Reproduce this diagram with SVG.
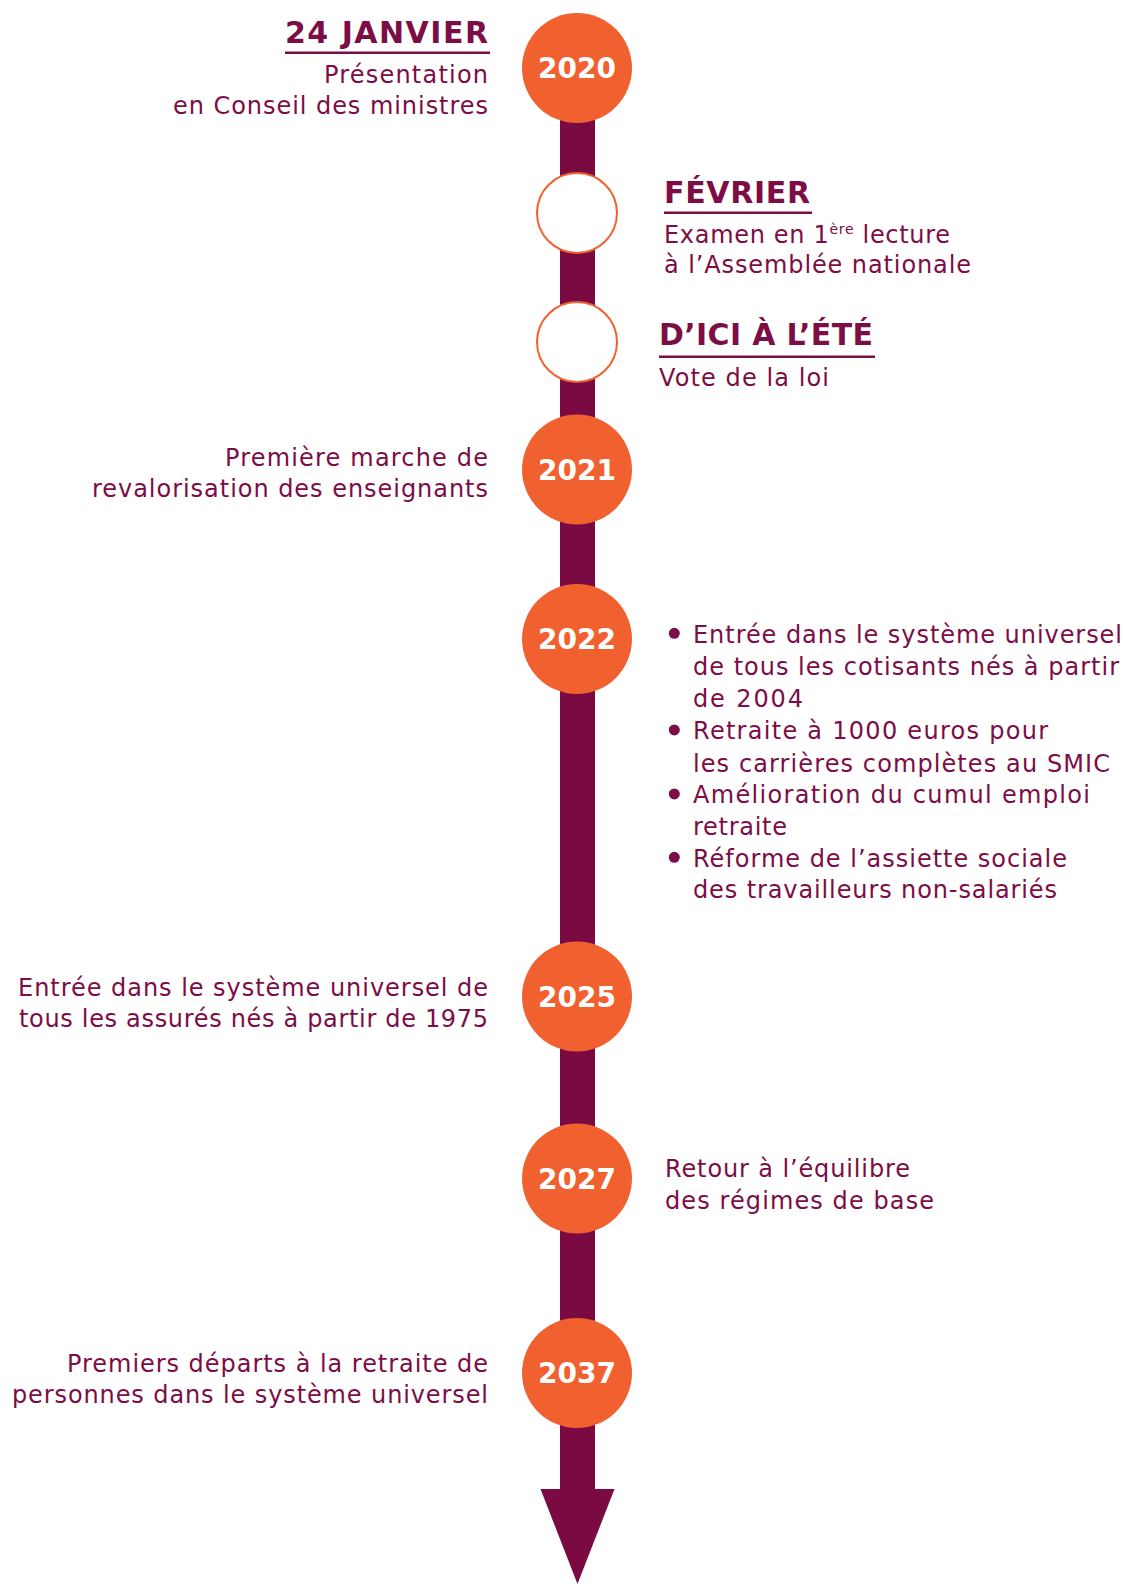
<svg xmlns="http://www.w3.org/2000/svg" width="1126" height="1584" viewBox="0 0 1126 1584">
  <style>
    .txt { font-family: "DejaVu Sans", "Liberation Sans", sans-serif; font-size: 24px; fill: #7c0d45; }
    .head { font-family: "DejaVu Sans", "Liberation Sans", sans-serif; font-weight: bold; font-size: 30px; fill: #7c0d45; }
    .year { font-family: "DejaVu Sans", "Liberation Sans", sans-serif; font-weight: bold; font-size: 28px; fill: #ffffff; text-anchor: middle; }
    .dot { fill: #f0612f; }
    .ring { fill: #ffffff; stroke: #f0612f; stroke-width: 2; }
    .rule { stroke: #7c0d45; stroke-width: 2.5; }
    .bullet { fill: #7c0d45; }
    .end { text-anchor: end; }
  </style>

  <!-- timeline spine with arrow head -->
  <g id="connectors">
    <rect x="560" y="68" width="35" height="1424" fill="#7c0a42"/>
    <polygon points="540.5,1489 614.5,1489 577.5,1584" fill="#7c0a42"/>
  </g>

  <!-- 2020 -->
  <g id="node-2020">
    <circle class="dot" cx="577" cy="68" r="55"/>
    <text class="year" x="577" y="78">2020</text>
    <text class="head end" x="488" y="42.7" font-size="32" textLength="203" lengthAdjust="spacing">24 JANVIER</text>
    <line class="rule" x1="285" y1="52.7" x2="490" y2="52.7"/>
    <text class="txt end" x="488" y="83" textLength="164" lengthAdjust="spacing">Présentation</text>
    <text class="txt end" x="488" y="113.5" textLength="315" lengthAdjust="spacing">en Conseil des ministres</text>
  </g>

  <!-- Février -->
  <g id="node-fevrier">
    <circle class="ring" cx="577" cy="213" r="40"/>
    <text class="head" x="664" y="203.3" textLength="146" lengthAdjust="spacing">FÉVRIER</text>
    <line class="rule" x1="664" y1="212.7" x2="812" y2="212.7"/>
    <text class="txt" x="664" y="242.7" textLength="286" lengthAdjust="spacing">Examen en 1<tspan font-size="14" dy="-9">ère</tspan><tspan dy="9"> lecture</tspan></text>
    <text class="txt" x="664" y="273.3" textLength="307" lengthAdjust="spacing">à l’Assemblée nationale</text>
  </g>

  <!-- D'ici à l'été -->
  <g id="node-ete">
    <circle class="ring" cx="577" cy="342" r="40"/>
    <text class="head" x="659" y="345" textLength="214" lengthAdjust="spacing">D’ICI À L’ÉTÉ</text>
    <line class="rule" x1="659" y1="356.7" x2="875" y2="356.7"/>
    <text class="txt" x="659" y="385.7" textLength="170" lengthAdjust="spacing">Vote de la loi</text>
  </g>

  <!-- 2021 -->
  <g id="node-2021">
    <circle class="dot" cx="577" cy="469.5" r="55"/>
    <text class="year" x="577" y="479.5">2021</text>
    <text class="txt end" x="488" y="466" textLength="263" lengthAdjust="spacing">Première marche de</text>
    <text class="txt end" x="488" y="497" textLength="396" lengthAdjust="spacing">revalorisation des enseignants</text>
  </g>

  <!-- 2022 -->
  <g id="node-2022">
    <circle class="dot" cx="577" cy="639" r="55"/>
    <text class="year" x="577" y="649">2022</text>
    <circle class="bullet" cx="674.3" cy="633.3" r="5.5"/>
    <text class="txt" x="693" y="642.7" textLength="429" lengthAdjust="spacing">Entrée dans le système universel</text>
    <text class="txt" x="693" y="675" textLength="426" lengthAdjust="spacing">de tous les cotisants nés à partir</text>
    <text class="txt" x="693" y="707.3" textLength="110" lengthAdjust="spacing">de 2004</text>
    <circle class="bullet" cx="674.3" cy="729.9" r="5.5"/>
    <text class="txt" x="693" y="739.3" textLength="355" lengthAdjust="spacing">Retraite à 1000 euros pour</text>
    <text class="txt" x="693" y="771.7" textLength="417" lengthAdjust="spacing">les carrières complètes au SMIC</text>
    <circle class="bullet" cx="674.3" cy="793.9" r="5.5"/>
    <text class="txt" x="693" y="803.3" textLength="397" lengthAdjust="spacing">Amélioration du cumul emploi</text>
    <text class="txt" x="693" y="835" textLength="94" lengthAdjust="spacing">retraite</text>
    <circle class="bullet" cx="674.3" cy="857.3" r="5.5"/>
    <text class="txt" x="693" y="866.7" textLength="374" lengthAdjust="spacing">Réforme de l’assiette sociale</text>
    <text class="txt" x="693" y="898.3" textLength="364" lengthAdjust="spacing">des travailleurs non-salariés</text>
  </g>

  <!-- 2025 -->
  <g id="node-2025">
    <circle class="dot" cx="577" cy="996.5" r="55"/>
    <text class="year" x="577" y="1006.5">2025</text>
    <text class="txt end" x="488" y="996" textLength="470" lengthAdjust="spacing">Entrée dans le système universel de</text>
    <text class="txt end" x="488" y="1027" textLength="469" lengthAdjust="spacing">tous les assurés nés à partir de 1975</text>
  </g>

  <!-- 2027 -->
  <g id="node-2027">
    <circle class="dot" cx="577" cy="1178.5" r="55"/>
    <text class="year" x="577" y="1188.5">2027</text>
    <text class="txt" x="665" y="1177" textLength="245" lengthAdjust="spacing">Retour à l’équilibre</text>
    <text class="txt" x="665" y="1208.5" textLength="269" lengthAdjust="spacing">des régimes de base</text>
  </g>

  <!-- 2037 -->
  <g id="node-2037">
    <circle class="dot" cx="577" cy="1373" r="55"/>
    <text class="year" x="577" y="1383">2037</text>
    <text class="txt end" x="488" y="1371.7" textLength="421" lengthAdjust="spacing">Premiers départs à la retraite de</text>
    <text class="txt end" x="488" y="1402.7" textLength="476" lengthAdjust="spacing">personnes dans le système universel</text>
  </g>
</svg>
